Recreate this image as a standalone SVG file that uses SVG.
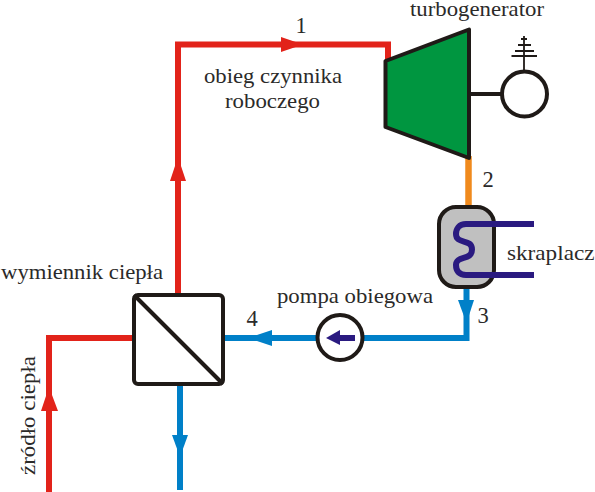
<svg xmlns="http://www.w3.org/2000/svg" width="595" height="492" viewBox="0 0 595 492">
<style>
text{font-family:"Liberation Serif","Times New Roman",serif;font-size:21.500px;fill:#2b2a29}
.d{font-size:22.500px}
.m{text-anchor:middle}
.r{fill:none;stroke:#e2231a;stroke-width:6}
.b{fill:none;stroke:#0080c8;stroke-width:6}
.ah-r{fill:#e2231a}.ah-b{fill:#0080c8}
.k{stroke:#1f1a17;stroke-width:4;fill:none}
.p{stroke:#2a1a80;fill:none}
</style>
<rect width="595" height="492" fill="#fff"/>
<g id="connectors">
<path class="r" d="M178 294V44.500H388V60"/>
<polygon class="ah-r" points="303,44.500 281,37 281,52"/>
<polygon class="ah-r" points="178,157 170,181 186,181"/>
<path class="r" d="M132 338H49V492"/>
<polygon class="ah-r" points="49,387 41,411 58,411"/>
<path d="M468.500 156V207" fill="none" stroke="#f08a1d" stroke-width="6.500"/>
<path class="b" d="M466.500 287V338H225"/>
<polygon class="ah-b" points="466.500,323 458,300 474,300"/>
<polygon class="ah-b" points="248,338 272,330 272,346"/>
<path class="b" d="M180 385V490"/>
<polygon class="ah-b" points="180,457 172,435 188,435"/>
<path class="k" d="M470 94H502"/>
<path d="M524 71V36M511.500 56H537M515 51H534M518 45H531M521 39H527" fill="none" stroke="#1f1a17" stroke-width="1.800"/>
</g>
<g id="turbine"><polygon points="385.500,61 469,29.500 469,158 385.500,127" fill="#009640" stroke="#1f1a17" stroke-width="4" stroke-linejoin="round"/></g>
<g id="generator"><circle cx="524.500" cy="94" r="22.500" fill="#fff" stroke="#1f1a17" stroke-width="4"/></g>
<g id="condenser"><rect x="439" y="207" width="55" height="80" rx="17" fill="#c0c0c0" stroke="#1f1a17" stroke-width="4"/>
<path class="p" stroke-width="6" d="M534 224H466C459 224 456 229 456 234C456 245 472 238 472 249.500C472 261 456 255 456 265C456 271 459 275 466 275H534"/></g>
<g id="exchanger"><rect x="134" y="295" width="89" height="89" rx="4" fill="#fff" stroke="#1f1a17" stroke-width="4"/><path class="k" d="M134 295L223 384"/></g>
<g id="pump"><circle cx="340" cy="337.500" r="22.500" fill="#fff" stroke="#1f1a17" stroke-width="4"/><polygon points="326,338 340,330 340,335 355,335 355,341 340,341 340,345" fill="#2a1a80"/></g>
<g id="labels">
<text x="410" y="16" textLength="134" lengthAdjust="spacingAndGlyphs">turbogenerator</text>
<text x="301" y="33" class="m d">1</text>
<text x="204" y="83" textLength="138" lengthAdjust="spacingAndGlyphs">obieg czynnika</text>
<text x="225" y="108" textLength="95" lengthAdjust="spacingAndGlyphs">roboczego</text>
<text x="488" y="187" class="m d">2</text>
<text x="507" y="260" textLength="87.500" lengthAdjust="spacingAndGlyphs">skraplacz</text>
<text x="483" y="323" class="m d">3</text>
<text x="252" y="326" class="m d">4</text>
<text x="277" y="303" textLength="156" lengthAdjust="spacingAndGlyphs">pompa obiegowa</text>
<text x="1" y="279" textLength="162" lengthAdjust="spacingAndGlyphs">wymiennik ciepła</text>
<text transform="translate(35 475) rotate(-90)" textLength="119" lengthAdjust="spacingAndGlyphs">źródło ciepła</text>
</g>
</svg>
